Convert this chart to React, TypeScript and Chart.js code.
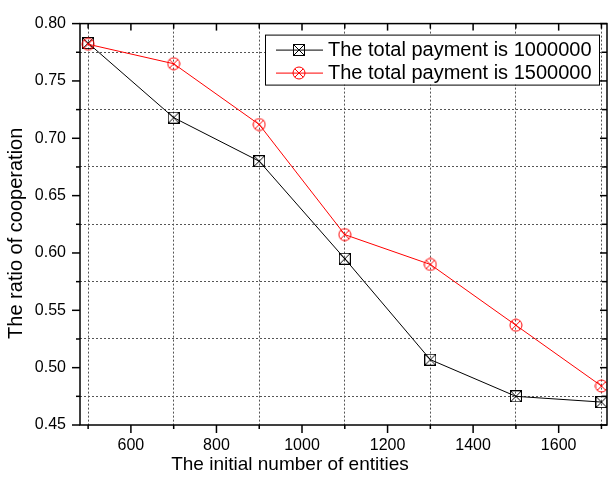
import React, { useEffect, useRef } from 'react';
import { Chart, registerables } from 'chart.js';

Chart.register(...registerables);

const entities = [500, 700, 900, 1100, 1300, 1500, 1700];
const payment1000000 = [0.783, 0.718, 0.68, 0.595, 0.507, 0.475, 0.47];
const payment1500000 = [0.782, 0.765, 0.712, 0.616, 0.59, 0.537, 0.484];
const xTickValues = [500, 600, 700, 800, 900, 1000, 1100, 1200, 1300, 1400, 1500, 1600, 1700];
const yTickValues = [450, 475, 500, 525, 550, 575, 600, 625, 650, 675, 700, 725, 750, 775, 800].map((v) => v / 1000);
const seriesLabels = ['The total payment is 1000000', 'The total payment is 1500000'];
const xTitle = 'The initial number of entities';
const yTitle = 'The ratio of cooperation';

const FONT = "'Liberation Sans', Arial, Helvetica, sans-serif";

function makeSquareX(color: string): HTMLCanvasElement {
  const c = document.createElement('canvas');
  c.width = 12;
  c.height = 12;
  const g = c.getContext('2d')!;
  g.strokeStyle = color;
  g.lineWidth = 1;
  g.strokeRect(0.5, 0.5, 11, 11);
  g.beginPath();
  g.moveTo(0.5, 0.5);
  g.lineTo(11.5, 11.5);
  g.moveTo(11.5, 0.5);
  g.lineTo(0.5, 11.5);
  g.stroke();
  return c;
}

function makeCircleX(color: string): HTMLCanvasElement {
  const c = document.createElement('canvas');
  c.width = 14;
  c.height = 14;
  const g = c.getContext('2d')!;
  g.strokeStyle = color;
  g.lineWidth = 1;
  g.beginPath();
  g.arc(7, 7, 6, 0, Math.PI * 2);
  g.stroke();
  const d = 6 * Math.SQRT1_2;
  g.beginPath();
  g.moveTo(7 - d, 7 - d);
  g.lineTo(7 + d, 7 + d);
  g.moveTo(7 + d, 7 - d);
  g.lineTo(7 - d, 7 + d);
  g.stroke();
  return c;
}

export default function App() {
  const ref = useRef<HTMLCanvasElement | null>(null);

  useEffect(() => {
    document.body.style.margin = '0';
    const canvas = ref.current;
    if (!canvas) return;
    const squareMarker = makeSquareX('#000000');
    const circleMarker = makeCircleX('#ff0000');
    const markers = [squareMarker, circleMarker];
    const colors = ['#000000', '#ff0000'];

    const isMajorY = (v: number) => Math.round(v * 1000) % 50 === 0;

    const decorPlugin = {
      id: 'decor',
      afterDatasetsDraw(chart: any) {
        const { ctx, chartArea } = chart;
        const { left, right, top, bottom } = chartArea;
        const x = chart.scales.x;
        const y = chart.scales.y;
        ctx.save();
        ctx.strokeStyle = '#000';
        ctx.lineWidth = 1.5;
        ctx.strokeRect(left, top, right - left, bottom - top);
        const line = (x1: number, y1: number, x2: number, y2: number) => {
          ctx.beginPath();
          ctx.moveTo(x1, y1);
          ctx.lineTo(x2, y2);
          ctx.stroke();
        };
        xTickValues.forEach((v) => {
          const px = x.getPixelForValue(v);
          const major = v % 200 === 0;
          line(px, bottom, px, bottom + (major ? 8 : 4));
          line(px, top, px, top + (major ? 7 : 5));
        });
        yTickValues.forEach((v) => {
          const py = y.getPixelForValue(v);
          const major = isMajorY(v);
          line(left - (major ? 8 : 4), py, left, py);
          line(right, py, right - (major ? 7 : 5), py);
        });
        ctx.restore();
      },
      afterDraw(chart: any) {
        const { ctx, chartArea } = chart;
        const { left, right, top, bottom } = chartArea;
        ctx.save();
        // axis titles
        ctx.fillStyle = '#000';
        ctx.font = `19px ${FONT}`;
        ctx.textAlign = 'center';
        ctx.textBaseline = 'middle';
        ctx.fillText(xTitle, left + 210, bottom + 40);
        ctx.translate(16, (top + bottom) / 2 + 9);
        ctx.rotate(-Math.PI / 2);
        ctx.font = `20px ${FONT}`;
        ctx.fillText(yTitle, 0, 0);
        ctx.restore();

        // legend
        ctx.save();
        const bx = right - 342;
        const by = top + 11;
        const bw = 334;
        const bh = 50;
        ctx.fillStyle = '#fff';
        ctx.fillRect(bx, by, bw, bh);
        ctx.strokeStyle = '#000';
        ctx.lineWidth = 1;
        ctx.strokeRect(bx + 0.5, by + 0.5, bw, bh);
        ctx.font = `20px ${FONT}`;
        ctx.textAlign = 'left';
        ctx.textBaseline = 'middle';
        seriesLabels.forEach((lab, i) => {
          const ry = by + 15 + i * 23;
          ctx.strokeStyle = colors[i];
          ctx.lineWidth = 1;
          ctx.beginPath();
          ctx.moveTo(bx + 11, ry + 0.5);
          ctx.lineTo(bx + 58, ry + 0.5);
          ctx.stroke();
          const m = markers[i];
          ctx.drawImage(m, Math.round(bx + 34 - m.width / 2), Math.round(ry - m.height / 2 + 0.5));
          ctx.fillStyle = '#000';
          ctx.fillText(lab, bx + 63, ry + 1);
        });
        ctx.restore();
      },
    };

    const chart = new Chart(canvas, {
      type: 'line',
      data: {
        datasets: [
          {
            label: seriesLabels[0],
            data: entities.map((e, i) => ({ x: e, y: payment1000000[i] })),
            borderColor: '#000000',
            borderWidth: 1,
            pointStyle: squareMarker as any,
            pointRadius: 6,
            fill: false,
            tension: 0,
            order: 1,
          },
          {
            label: seriesLabels[1],
            data: entities.map((e, i) => ({ x: e, y: payment1500000[i] })),
            borderColor: '#ff0000',
            borderWidth: 1,
            pointStyle: circleMarker as any,
            pointRadius: 7,
            fill: false,
            tension: 0,
            order: 0,
          },
        ],
      },
      options: {
        animation: false,
        responsive: false,
        layout: { padding: { left: 0, right: 1, top: 13, bottom: 0 } },
        plugins: {
          legend: { display: false },
          tooltip: { enabled: false },
        },
        scales: {
          x: {
            type: 'linear',
            min: 481,
            max: 1713,
            afterBuildTicks: (s: any) => {
              s.ticks = xTickValues.map((v) => ({ value: v }));
            },
            afterFit: (s: any) => {
              s.height = 57;
            },
            grid: {
              color: (c: any) => (c.tick && c.tick.value % 200 === 100 ? '#555' : 'rgba(0,0,0,0)'),
              drawTicks: false,
              lineWidth: 1,
            },
            border: { display: false, dash: [2, 2] },
            ticks: {
              autoSkip: false,
              maxRotation: 0,
              padding: 11,
              color: '#000',
              font: { family: FONT, size: 16 },
              callback: (v: any) => (Number(v) % 200 === 0 ? String(v) : ''),
            },
          },
          y: {
            type: 'linear',
            min: 0.45,
            max: 0.8,
            afterBuildTicks: (s: any) => {
              s.ticks = yTickValues.map((v) => ({ value: v }));
            },
            afterFit: (s: any) => {
              s.width = 80;
            },
            grid: {
              color: (c: any) => (c.tick && !isMajorY(c.tick.value) ? '#555' : 'rgba(0,0,0,0)'),
              drawTicks: false,
              lineWidth: 1,
            },
            border: { display: false, dash: [2, 2] },
            ticks: {
              autoSkip: false,
              padding: 14,
              color: '#000',
              font: { family: FONT, size: 16 },
              callback: (v: any) => (isMajorY(Number(v)) ? Number(v).toFixed(2) : ''),
            },
          },
        },
      },
      plugins: [decorPlugin],
    });

    return () => {
      chart.destroy();
    };
  }, []);

  return (
    <div style={{ width: 615, height: 482 }}>
      <canvas ref={ref} width={615} height={482} style={{ display: 'block' }} />
    </div>
  );
}
